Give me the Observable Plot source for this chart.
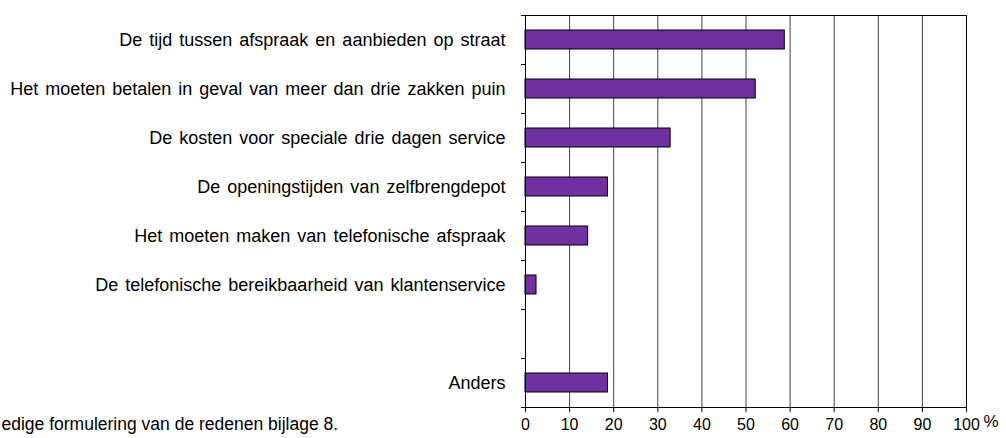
<!DOCTYPE html>
<html>
<head>
<meta charset="utf-8">
<script src="https://cdn.jsdelivr.net/npm/d3@7"></script>
<script src="https://cdn.jsdelivr.net/npm/@observablehq/plot@0.6"></script>
<style>
  html, body { margin: 0; padding: 0; background: white; }
  g[aria-label="y-axis tick label"] text { word-spacing: 2px; }
</style>
</head>
<body>
<div id="chart"></div>
<script>
const categories = [
  "De tijd tussen afspraak en aanbieden op straat",
  "Het moeten betalen in geval van meer dan drie zakken puin",
  "De kosten voor speciale drie dagen service",
  "De openingstijden van zelfbrengdepot",
  "Het moeten maken van telefonische afspraak",
  "De telefonische bereikbaarheid van klantenservice",
  " ",
  "Anders"
];
const values = [58.8, 52.2, 32.9, 18.7, 14.2, 2.5, null, 18.7];
const xTicks = [0, 10, 20, 30, 40, 50, 60, 70, 80, 90, 100];
const footnote = "edige formulering van de redenen bijlage 8.";
const unitLabel = "%";

const data = categories
  .map((c, i) => ({category: c, value: values[i]}))
  .filter(d => d.value != null);

const W = 1006, H = 438, mt = 15, mb = 31, ml = 525, mr = 40;
const bw = (H - mt - mb) / categories.length;

const chart = Plot.plot({
  width: W,
  height: H,
  marginTop: mt,
  marginBottom: mb,
  marginLeft: ml,
  marginRight: mr,
  style: {fontFamily: "'Liberation Sans', Arial, sans-serif", fontSize: "16px", color: "black", background: "white"},
  x: {domain: [0, 100]},
  y: {domain: categories, padding: 0},
  marks: [
    Plot.gridX(xTicks, {stroke: "#444", strokeOpacity: 1}),
    Plot.barX(data, {x: "value", y: "category", fill: "#7030A0", stroke: "black", strokeWidth: 1, insetTop: 15, insetBottom: 15}),
    Plot.frame({stroke: "black"}),
    Plot.axisX({ticks: xTicks, tickSize: 5, tickPadding: 6, label: null, fontSize: 16}),
    Plot.axisY({tickSize: 0, tickPadding: 20, label: null, fontSize: 18}),
    Plot.axisY({ticks: categories, tickSize: 4, tickFormat: () => "", dy: -bw / 2, label: null}),
    Plot.axisY({ticks: [categories[categories.length - 1]], tickSize: 4, tickFormat: () => "", dy: bw / 2, label: null}),
    Plot.text([unitLabel], {frameAnchor: "bottom-right", dx: 32, dy: 19, fontSize: 17}),
    Plot.text([footnote], {frameAnchor: "bottom-left", textAnchor: "start", dx: -ml + 1, dy: 22, fontSize: 17.5})
  ]
});
document.getElementById("chart").appendChild(chart);
</script>
</body>
</html>
